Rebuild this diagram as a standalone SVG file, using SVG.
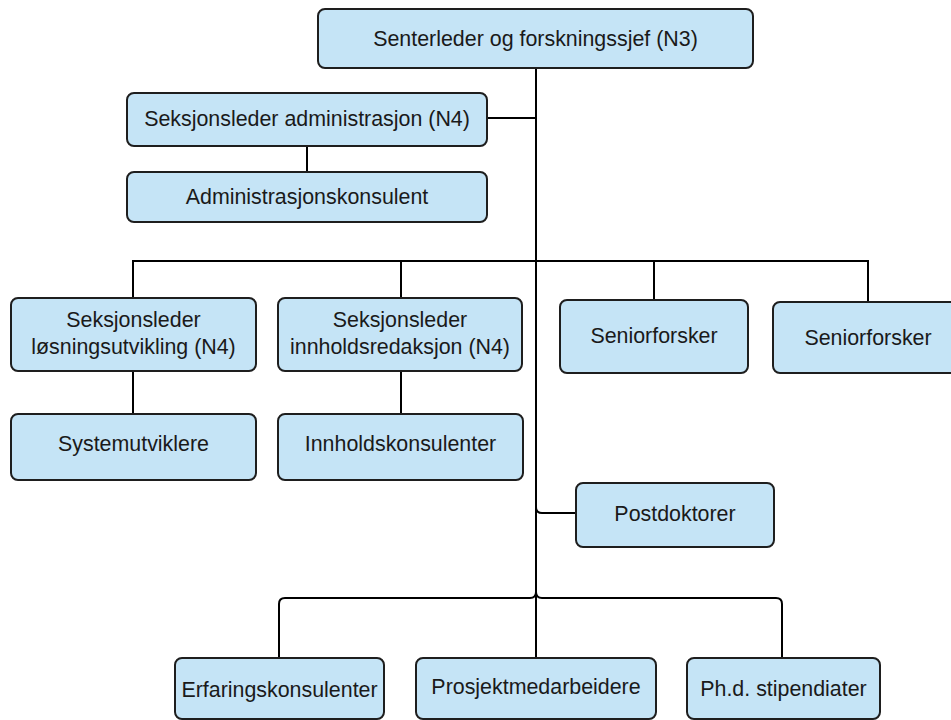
<svg xmlns="http://www.w3.org/2000/svg" width="951" height="720" viewBox="0 0 951 720">
<style>
.box{fill:#c5e4f6;stroke:#1e1e1e;stroke-width:2}
.t{font-family:"Liberation Sans",Arial,sans-serif;font-size:21.4px;fill:#1a1a1a;text-anchor:middle}
.c{fill:none;stroke:#000;stroke-width:2}
</style>
<rect width="951" height="720" fill="#fff"/>
<g id="connectors">
<path class="c" d="M536,68 V658"/>
<path class="c" d="M487,118 H536"/>
<path class="c" d="M307,146 V172"/>
<path class="c" d="M133,298 V261 H868 V302"/>
<path class="c" d="M401,261 V298"/>
<path class="c" d="M654,261 V300"/>
<path class="c" d="M133,371 V414"/>
<path class="c" d="M401,371 V414"/>
<path class="c" d="M536,507 Q536,513 542,513 H576"/>
<path class="c" d="M536,592 Q536,598 530,598 H285 Q279,598 279,604 V658"/>
<path class="c" d="M536,592 Q536,598 542,598 H776 Q782,598 782,604 V658"/>
</g>
<g id="n3">
<rect class="box" x="318" y="9" width="435" height="59" rx="7"/>
<text class="t" x="535.5" y="46">Senterleder og forskningssjef (N3)</text>
</g>
<g id="admin">
<rect class="box" x="127" y="93" width="360" height="53" rx="7"/>
<text class="t" x="307" y="126">Seksjonsleder administrasjon (N4)</text>
</g>
<g id="adminkons">
<rect class="box" x="127" y="172" width="360" height="50" rx="7"/>
<text class="t" x="307" y="204">Administrasjonskonsulent</text>
</g>
<g id="losning">
<rect class="box" x="11" y="298" width="245" height="73" rx="7"/>
<text class="t" x="133.5" y="327">Seksjonsleder</text>
<text class="t" x="133.5" y="354">løsningsutvikling (N4)</text>
</g>
<g id="innhold">
<rect class="box" x="278" y="298" width="244" height="73" rx="7"/>
<text class="t" x="400" y="327">Seksjonsleder</text>
<text class="t" x="400" y="354">innholdsredaksjon (N4)</text>
</g>
<g id="senior1">
<rect class="box" x="560" y="300" width="188" height="73" rx="7"/>
<text class="t" x="654" y="343">Seniorforsker</text>
</g>
<g id="senior2">
<rect class="box" x="773" y="302" width="192" height="71" rx="7"/>
<text class="t" x="868" y="345">Seniorforsker</text>
</g>
<g id="system">
<rect class="box" x="11" y="414" width="245" height="66" rx="7"/>
<text class="t" x="133.5" y="451">Systemutviklere</text>
</g>
<g id="innholdskons">
<rect class="box" x="278" y="414" width="245" height="66" rx="7"/>
<text class="t" x="400.5" y="451">Innholdskonsulenter</text>
</g>
<g id="postdok">
<rect class="box" x="576" y="483" width="198" height="64" rx="7"/>
<text class="t" x="675" y="521">Postdoktorer</text>
</g>
<g id="erfaring">
<rect class="box" x="175" y="658" width="209" height="61" rx="7"/>
<text class="t" x="279.5" y="697">Erfaringskonsulenter</text>
</g>
<g id="prosjekt">
<rect class="box" x="416" y="658" width="240" height="61" rx="7"/>
<text class="t" x="536" y="694">Prosjektmedarbeidere</text>
</g>
<g id="phd">
<rect class="box" x="687" y="658" width="193" height="61" rx="7"/>
<text class="t" x="783.5" y="696">Ph.d. stipendiater</text>
</g>
</svg>
